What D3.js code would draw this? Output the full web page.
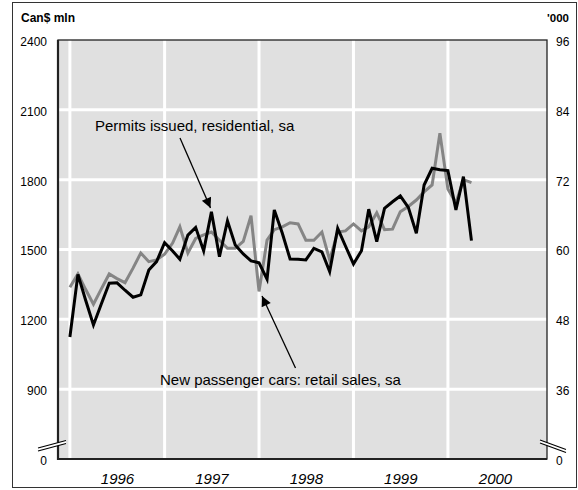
<!DOCTYPE html>
<html><head><meta charset="utf-8">
<script src="https://cdn.jsdelivr.net/npm/d3@7"></script>
<style>
body{margin:0;background:#fff}
text{font-family:"Liberation Sans",Arial,Helvetica,sans-serif;fill:#000}
</style>
</head><body>
<svg id="chart" width="578" height="490"></svg>
<script>
// ---- data ----
const firstMonth = new Date(1996, 0, 1);
// Building permits, residential, sa (Can$ mln, left axis)
const permits = [
  1124,1393,1285,1176,1265,1355,1357,1325,1295,1305,1412,1448,
  1529,1494,1458,1562,1595,1494,1662,1469,1623,1519,1481,1451,
  1443,1373,1670,1570,1459,1458,1455,1505,1490,1405,1591,1515,
  1438,1495,1673,1534,1677,1705,1730,1681,1570,1777,1849,1843,
  1839,1670,1813,1538
];
// New passenger cars: retail sales, sa ('000 units, right axis)
const cars = [
  53.5,55.8,53.2,50.6,53.2,55.8,55.0,54.3,56.8,59.4,57.9,58.2,
  59.2,61.1,63.9,59.4,61.9,62.5,63.0,61.6,60.2,60.2,61.4,65.8,
  52.8,61.6,63.4,63.9,64.6,64.4,61.6,61.6,63.0,58.2,63.0,63.2,
  64.4,63.2,63.9,66.3,63.4,63.5,66.5,67.4,68.5,69.9,71.1,80.0,
  70.4,68.0,72.0,71.5
];
const leftTicks = [600, 900, 1200, 1500, 1800, 2100, 2400];
const leftTickLabels = ["0", "900", "1200", "1500", "1800", "2100", "2400"];
const rightTicks = [24, 36, 48, 60, 72, 84, 96];
const rightTickLabels = ["0", "36", "48", "60", "72", "84", "96"];
const years = [1996, 1997, 1998, 1999, 2000];
const leftTitle = "Can$ mln";
const rightTitle = "'000";
const permitsLabel = "Permits issued, residential, sa";
const carsLabel = "New passenger cars: retail sales, sa";

// ---- layout ----
const svg = d3.select("#chart");
const L = 58, R = 547, T = 40, B = 459;

const x = d3.scaleTime()
  .domain([new Date(1995, 10, 16), new Date(2001, 0, 18)])
  .range([L, R]);
const yL = d3.scaleLinear().domain([600, 2400]).range([B, T]);
const yR = d3.scaleLinear().domain([24, 96]).range([B, T]);

const dates = permits.map((_, i) => d3.timeMonth.offset(firstMonth, i));

// outer frame
svg.append("rect").attr("x", 12.5).attr("y", 2.5).attr("width", 564).attr("height", 485)
  .attr("fill", "none").attr("stroke", "#333").attr("stroke-width", 1);

// plot background
svg.append("rect").attr("x", L).attr("y", T).attr("width", R - L).attr("height", B - T)
  .attr("fill", "#e0e0e0");

// gridlines
const g = svg.append("g");
g.selectAll(".hg").data(leftTicks.slice(1, -1)).join("line")
  .attr("x1", L).attr("x2", R)
  .attr("y1", d => yL(d)).attr("y2", d => yL(d))
  .attr("stroke", "#fff").attr("stroke-width", 3);
g.selectAll(".vg").data(years).join("line")
  .attr("x1", d => x(new Date(d, 0, 1))).attr("x2", d => x(new Date(d, 0, 1)))
  .attr("y1", T).attr("y2", B)
  .attr("stroke", "#fff").attr("stroke-width", 3);

// plot border
svg.append("rect").attr("x", L).attr("y", T).attr("width", R - L).attr("height", B - T)
  .attr("fill", "none").attr("stroke", "#222").attr("stroke-width", 1.3);
svg.append("line").attr("x1", L).attr("x2", L).attr("y1", T).attr("y2", B + 1)
  .attr("stroke", "#222").attr("stroke-width", 2.2);
svg.append("line").attr("x1", L - 1).attr("x2", R).attr("y1", B).attr("y2", B)
  .attr("stroke", "#222").attr("stroke-width", 2.2);

// lines
const lineCars = d3.line().x((d, i) => x(dates[i])).y(d => yR(d));
const linePermits = d3.line().x((d, i) => x(dates[i])).y(d => yL(d));
svg.append("path").datum(cars).attr("d", lineCars)
  .attr("fill", "none").attr("stroke", "#858585").attr("stroke-width", 3).attr("stroke-linejoin", "miter");
svg.append("path").datum(permits).attr("d", linePermits)
  .attr("fill", "none").attr("stroke", "#000").attr("stroke-width", 3).attr("stroke-linejoin", "miter");

// axes
const axL = d3.axisLeft(yL).tickValues(leftTicks)
  .tickFormat((d, i) => leftTickLabels[i]).tickSize(0).tickPadding(11);
const gL = svg.append("g").attr("transform", `translate(${L},0)`).call(axL);
gL.select(".domain").remove();
gL.selectAll("text").attr("font-size", 12).attr("dy", "0.45em")
  .style("font-family", '"Liberation Sans",Arial,sans-serif');

const axR = d3.axisRight(yR).tickValues(rightTicks)
  .tickFormat((d, i) => rightTickLabels[i]).tickSize(0).tickPadding(9);
const gR = svg.append("g").attr("transform", `translate(${R},0)`).call(axR);
gR.select(".domain").remove();
gR.selectAll("text").attr("font-size", 12).attr("dy", "0.45em")
  .style("font-family", '"Liberation Sans",Arial,sans-serif');

const axB = d3.axisBottom(x).tickValues(years.map(d => new Date(d, 6, 1)))
  .tickFormat(d3.timeFormat("%Y")).tickSize(0).tickPadding(14);
const gB = svg.append("g").attr("transform", `translate(0,${B})`).call(axB);
gB.select(".domain").remove();
gB.selectAll("text").attr("font-size", 15).attr("font-style", "italic")
  .style("font-family", '"Liberation Sans",Arial,sans-serif');

// axis breaks
function brk(x1, y1, x2, y2, gap) {
  svg.append("polygon")
    .attr("points", `${x1},${y1} ${x2},${y2} ${x2},${y2 + gap} ${x1},${y1 + gap}`)
    .attr("fill", "#fff");
  svg.append("line").attr("x1", x1).attr("y1", y1).attr("x2", x2).attr("y2", y2)
    .attr("stroke", "#000").attr("stroke-width", 1.2);
  svg.append("line").attr("x1", x1).attr("y1", y1 + gap).attr("x2", x2).attr("y2", y2 + gap)
    .attr("stroke", "#000").attr("stroke-width", 1.2);
}
brk(38, 448, 66, 440.5, 3);
brk(540, 440, 566, 449.5, 3);

// titles
svg.append("text").attr("x", 21).attr("y", 21.5).attr("font-size", 12).attr("font-weight", "bold").text(leftTitle);
svg.append("text").attr("x", 569).attr("y", 21.5).attr("text-anchor", "end").attr("font-size", 11.5).attr("font-weight", "bold").text(rightTitle);

// annotations
svg.append("defs").append("marker").attr("id", "ah")
  .attr("viewBox", "0 0 10 10").attr("refX", 10).attr("refY", 5)
  .attr("markerWidth", 14).attr("markerHeight", 10).attr("markerUnits", "userSpaceOnUse")
  .attr("orient", "auto")
  .append("path").attr("d", "M0,0 L10,5 L0,10 Z").attr("fill", "#000");

svg.append("text").attr("x", 95).attr("y", 131).attr("font-size", 15).text(permitsLabel);
svg.append("line").attr("x1", 180).attr("y1", 138).attr("x2", 210.5).attr("y2", 208)
  .attr("stroke", "#000").attr("stroke-width", 1.3).attr("marker-end", "url(#ah)");

svg.append("text").attr("x", 160).attr("y", 384.5).attr("font-size", 15).text(carsLabel);
svg.append("line").attr("x1", 295.5).attr("y1", 368).attr("x2", 262).attr("y2", 296)
  .attr("stroke", "#000").attr("stroke-width", 1.3).attr("marker-end", "url(#ah)");
</script>
</body></html>
